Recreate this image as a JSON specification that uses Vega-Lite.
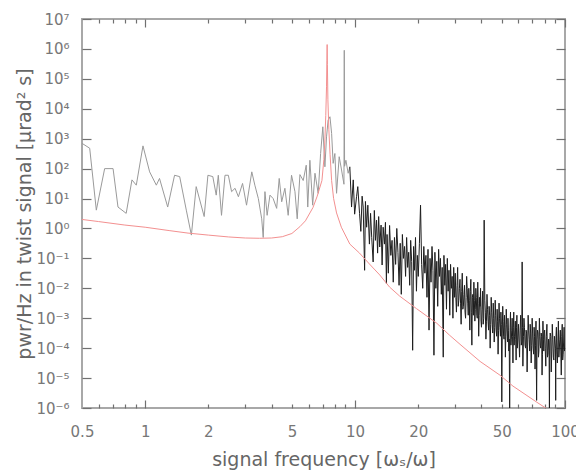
{
  "$schema": "https://vega.github.io/schema/vega-lite/v6.json",
  "width": 483,
  "height": 389,
  "autosize": {"type": "none"},
  "padding": {"left": 82, "top": 19, "right": 11, "bottom": 66},
  "background": "white",
  "config": {
    "view": {"stroke": "#a8a8a8", "strokeWidth": 2},
    "axis": {
      "domain": false,
      "grid": false,
      "tickColor": "#707070",
      "tickWidth": 1.2,
      "labelFont": "DejaVu Sans",
      "labelFontSize": 15,
      "labelColor": "#777",
      "titleFont": "DejaVu Sans",
      "titleFontSize": 19,
      "titleFontWeight": "normal",
      "titleColor": "#666",
      "labelOverlap": false,
      "labelFlush": false
    }
  },
  "datasets": {
    "spec": [
      {"f": 0.5, "p": 700}, {"f": 0.544, "p": 480}, {"f": 0.585, "p": 4.1}, {"f": 0.641, "p": 100},
      {"f": 0.703, "p": 100}, {"f": 0.742, "p": 5.2}, {"f": 0.812, "p": 3.2}, {"f": 0.865, "p": 42},
      {"f": 0.907, "p": 28}, {"f": 0.976, "p": 575}, {"f": 1.05, "p": 78}, {"f": 1.13, "p": 28},
      {"f": 1.17, "p": 47}, {"f": 1.28, "p": 5.2}, {"f": 1.38, "p": 60}, {"f": 1.46, "p": 54},
      {"f": 1.57, "p": 4.1}, {"f": 1.66, "p": 0.6}, {"f": 1.75, "p": 25}, {"f": 1.91, "p": 2.5},
      {"f": 1.99, "p": 60}, {"f": 2.1, "p": 54}, {"f": 2.18, "p": 13}, {"f": 2.23, "p": 60},
      {"f": 2.31, "p": 2.75}, {"f": 2.4, "p": 60}, {"f": 2.49, "p": 60}, {"f": 2.58, "p": 17},
      {"f": 2.68, "p": 22}, {"f": 2.78, "p": 11.5}, {"f": 2.91, "p": 32}, {"f": 3.04, "p": 6},
      {"f": 3.22, "p": 78}, {"f": 3.33, "p": 28}, {"f": 3.46, "p": 10}, {"f": 3.59, "p": 2.1},
      {"f": 3.65, "p": 0.5}, {"f": 3.72, "p": 17}, {"f": 3.81, "p": 2.75}, {"f": 3.93, "p": 13},
      {"f": 4.07, "p": 10}, {"f": 4.23, "p": 4.7}, {"f": 4.35, "p": 47}, {"f": 4.47, "p": 7.8},
      {"f": 4.63, "p": 22}, {"f": 4.8, "p": 2.75}, {"f": 4.98, "p": 60}, {"f": 5.17, "p": 17},
      {"f": 5.3, "p": 2.1}, {"f": 5.46, "p": 63}, {"f": 5.66, "p": 40}, {"f": 5.85, "p": 130},
      {"f": 5.95, "p": 5.2}, {"f": 6.09, "p": 190}, {"f": 6.28, "p": 6}, {"f": 6.44, "p": 70},
      {"f": 6.67, "p": 15}, {"f": 6.85, "p": 320}, {"f": 7.02, "p": 2500}, {"f": 7.18, "p": 115},
      {"f": 7.31, "p": 1150}, {"f": 7.44, "p": 4200}, {"f": 7.59, "p": 5400}, {"f": 7.73, "p": 1500},
      {"f": 7.86, "p": 150}, {"f": 8.01, "p": 320}, {"f": 8.16, "p": 15}, {"f": 8.4, "p": 250},
      {"f": 8.62, "p": 90}, {"f": 8.85, "p": 30}, {"f": 8.88, "p": 900000}, {"f": 8.91, "p": 120},
      {"f": 9.04, "p": 190}, {"f": 9.27, "p": 70}, {"f": 9.44, "p": 115}, {"f": 9.62, "p": 5.2},
      {"f": 9.8, "p": 42}, {"f": 9.95, "p": 3}, {"f": 10.16, "p": 11.5}, {"f": 10.3, "p": 25},
      {"f": 10.5, "p": 3.2}, {"f": 10.65, "p": 0.8}, {"f": 10.8, "p": 12}, {"f": 10.93, "p": 5.2},
      {"f": 11.1, "p": 0.04}, {"f": 11.2, "p": 8}, {"f": 11.35, "p": 1.1}, {"f": 11.5, "p": 6},
      {"f": 11.7, "p": 0.3}, {"f": 11.85, "p": 3.2}, {"f": 12.0, "p": 0.5}, {"f": 12.19, "p": 0.076},
      {"f": 12.35, "p": 4}, {"f": 12.5, "p": 0.4}, {"f": 12.65, "p": 1.9}, {"f": 12.8, "p": 0.15},
      {"f": 12.95, "p": 2.5}, {"f": 13.1, "p": 0.24}, {"f": 13.3, "p": 1.3}, {"f": 13.45, "p": 0.06},
      {"f": 13.6, "p": 1.1}, {"f": 13.8, "p": 0.3}, {"f": 13.95, "p": 1.6}, {"f": 14.1, "p": 0.0145},
      {"f": 14.2, "p": 0.63}, {"f": 14.4, "p": 0.032}, {"f": 14.6, "p": 1.26}, {"f": 14.8, "p": 0.126},
      {"f": 15.0, "p": 0.4}, {"f": 15.2, "p": 0.016}, {"f": 15.4, "p": 0.5}, {"f": 15.6, "p": 0.063},
      {"f": 15.8, "p": 1.0}, {"f": 16.0, "p": 0.16}, {"f": 16.2, "p": 0.0126}, {"f": 16.4, "p": 0.32},
      {"f": 16.6, "p": 0.0063}, {"f": 16.8, "p": 0.63}, {"f": 17.0, "p": 0.1}, {"f": 17.2, "p": 0.25},
      {"f": 17.4, "p": 0.025}, {"f": 17.6, "p": 0.5}, {"f": 17.8, "p": 0.05}, {"f": 18.0, "p": 0.16},
      {"f": 18.2, "p": 0.0126}, {"f": 18.4, "p": 0.4}, {"f": 18.6, "p": 0.08}, {"f": 18.8, "p": 8.5e-5},
      {"f": 19.0, "p": 0.25}, {"f": 19.2, "p": 0.04}, {"f": 19.4, "p": 0.5}, {"f": 19.6, "p": 0.008},
      {"f": 19.8, "p": 0.126}, {"f": 20.0, "p": 0.025}, {"f": 20.25, "p": 0.32}, {"f": 20.5, "p": 6},
      {"f": 20.75, "p": 0.063}, {"f": 21.0, "p": 0.01}, {"f": 21.25, "p": 0.25}, {"f": 21.5, "p": 0.032},
      {"f": 21.75, "p": 0.126}, {"f": 22.0, "p": 0.005}, {"f": 22.25, "p": 0.2}, {"f": 22.5, "p": 4e-4},
      {"f": 22.75, "p": 0.1}, {"f": 23.0, "p": 0.016}, {"f": 23.25, "p": 0.25}, {"f": 23.5, "p": 0.04},
      {"f": 23.75, "p": 5.8e-5}, {"f": 24.0, "p": 0.16}, {"f": 24.25, "p": 0.01}, {"f": 24.5, "p": 0.08},
      {"f": 24.75, "p": 0.0025}, {"f": 25.0, "p": 0.2}, {"f": 25.25, "p": 0.025}, {"f": 25.5, "p": 0.1},
      {"f": 25.75, "p": 0.0063}, {"f": 26.0, "p": 0.05}, {"f": 26.3, "p": 5e-5}, {"f": 26.5, "p": 0.126},
      {"f": 26.75, "p": 0.0126}, {"f": 27.0, "p": 0.063}, {"f": 27.25, "p": 0.002}, {"f": 27.5, "p": 0.1},
      {"f": 27.75, "p": 0.008}, {"f": 28.0, "p": 0.04}, {"f": 28.25, "p": 0.00126}, {"f": 28.5, "p": 0.063},
      {"f": 28.75, "p": 0.01}, {"f": 29.0, "p": 0.025}, {"f": 29.25, "p": 0.001}, {"f": 29.5, "p": 0.05},
      {"f": 29.75, "p": 0.005}, {"f": 30.0, "p": 0.032}, {"f": 30.4, "p": 0.0016}, {"f": 30.8, "p": 0.05},
      {"f": 31.2, "p": 0.004}, {"f": 31.6, "p": 0.02}, {"f": 32.0, "p": 6.3e-4}, {"f": 32.4, "p": 0.032},
      {"f": 32.8, "p": 0.0025}, {"f": 33.2, "p": 0.0126}, {"f": 33.6, "p": 0.001}, {"f": 34.0, "p": 0.025},
      {"f": 34.4, "p": 0.0032}, {"f": 34.8, "p": 0.01}, {"f": 35.2, "p": 4e-4}, {"f": 35.6, "p": 0.02},
      {"f": 36.0, "p": 1.26e-4}, {"f": 36.4, "p": 0.0063}, {"f": 36.8, "p": 0.016}, {"f": 37.2, "p": 8e-4},
      {"f": 37.6, "p": 0.01}, {"f": 38.0, "p": 0.00126}, {"f": 38.4, "p": 0.016}, {"f": 38.8, "p": 2.5e-4},
      {"f": 39.2, "p": 0.005}, {"f": 39.6, "p": 0.01}, {"f": 40.0, "p": 5e-4}, {"f": 40.5, "p": 0.008},
      {"f": 41.0, "p": 0.001}, {"f": 41.2, "p": 1.9}, {"f": 41.5, "p": 0.004}, {"f": 42.0, "p": 2e-4},
      {"f": 42.5, "p": 0.0063}, {"f": 43.0, "p": 8e-4}, {"f": 43.5, "p": 0.0025}, {"f": 44.0, "p": 1e-4},
      {"f": 44.5, "p": 0.005}, {"f": 45.0, "p": 6.3e-4}, {"f": 45.5, "p": 0.0032}, {"f": 46.0, "p": 1.6e-4},
      {"f": 46.5, "p": 0.004}, {"f": 47.0, "p": 4e-4}, {"f": 47.5, "p": 0.002}, {"f": 48.0, "p": 6.3e-5},
      {"f": 48.5, "p": 0.0032}, {"f": 49.0, "p": 5e-4}, {"f": 49.5, "p": 0.0016}, {"f": 50.0, "p": 1.6e-6},
      {"f": 50.5, "p": 0.0025}, {"f": 51.0, "p": 2.5e-4}, {"f": 51.5, "p": 0.00126}, {"f": 52.0, "p": 5e-5},
      {"f": 52.5, "p": 0.002}, {"f": 53.0, "p": 3.2e-4}, {"f": 53.5, "p": 0.001}, {"f": 54.0, "p": 8e-5},
      {"f": 54.5, "p": 5e-7}, {"f": 55.0, "p": 0.0016}, {"f": 55.5, "p": 2e-4}, {"f": 56.0, "p": 0.001},
      {"f": 56.5, "p": 3.2e-5}, {"f": 57.0, "p": 0.0016}, {"f": 57.5, "p": 2.5e-4}, {"f": 58.0, "p": 8e-4},
      {"f": 58.5, "p": 4e-5}, {"f": 59.0, "p": 0.00126}, {"f": 59.5, "p": 1.6e-4}, {"f": 60.0, "p": 6.3e-4},
      {"f": 60.75, "p": 5e-5}, {"f": 61.5, "p": 0.00126}, {"f": 62.25, "p": 1.6e-4}, {"f": 62.5, "p": 0.076},
      {"f": 62.75, "p": 5e-4}, {"f": 63.0, "p": 2.5e-5}, {"f": 63.75, "p": 0.001}, {"f": 64.5, "p": 1.26e-4},
      {"f": 65.25, "p": 4e-4}, {"f": 66.0, "p": 1.6e-5}, {"f": 66.75, "p": 0.00126}, {"f": 67.5, "p": 2e-4},
      {"f": 68.25, "p": 6.3e-4}, {"f": 69.0, "p": 3.2e-5}, {"f": 69.75, "p": 0.001}, {"f": 70.5, "p": 1e-4},
      {"f": 71.25, "p": 5e-4}, {"f": 72.0, "p": 2e-5}, {"f": 72.75, "p": 8e-4}, {"f": 73.25, "p": 1.8e-6},
      {"f": 74.0, "p": 4e-4}, {"f": 74.75, "p": 5e-5}, {"f": 75.5, "p": 0.001}, {"f": 76.25, "p": 1.26e-4},
      {"f": 77.0, "p": 3.2e-4}, {"f": 77.75, "p": 1.26e-5}, {"f": 78.5, "p": 8e-4}, {"f": 79.25, "p": 8e-5},
      {"f": 80.0, "p": 4e-4}, {"f": 81.0, "p": 2.5e-5}, {"f": 82.0, "p": 6.3e-4}, {"f": 83.0, "p": 6.3e-5},
      {"f": 84.3, "p": 5e-7}, {"f": 85.0, "p": 3.2e-4}, {"f": 86.0, "p": 1.6e-5}, {"f": 87.0, "p": 6.3e-4},
      {"f": 88.0, "p": 5e-5}, {"f": 89.0, "p": 2.5e-4}, {"f": 90.3, "p": 1.8e-6}, {"f": 91.0, "p": 5e-4},
      {"f": 92.0, "p": 3.2e-5}, {"f": 93.0, "p": 8e-4}, {"f": 94.0, "p": 1e-4}, {"f": 95.0, "p": 4e-4},
      {"f": 96.0, "p": 1.26e-5}, {"f": 97.0, "p": 6.3e-4}, {"f": 98.0, "p": 6.3e-5}, {"f": 99.0, "p": 5e-4},
      {"f": 100.0, "p": 1e-4},
      {"f": 30.2, "p": 0.005}, {"f": 30.6, "p": 0.0126}, {"f": 31.0, "p": 0.0025}, {"f": 31.4, "p": 0.01},
      {"f": 31.8, "p": 0.0032}, {"f": 32.2, "p": 0.008}, {"f": 32.6, "p": 0.002}, {"f": 33.0, "p": 0.0063},
      {"f": 33.4, "p": 0.0016}, {"f": 33.8, "p": 0.005}, {"f": 34.2, "p": 0.01}, {"f": 34.6, "p": 0.00126},
      {"f": 35.0, "p": 0.004}, {"f": 35.4, "p": 0.008}, {"f": 35.8, "p": 0.0016}, {"f": 36.2, "p": 0.005},
      {"f": 36.6, "p": 0.00126}, {"f": 37.0, "p": 0.004}, {"f": 37.4, "p": 0.002}, {"f": 37.8, "p": 0.005},
      {"f": 38.2, "p": 0.001}, {"f": 38.6, "p": 0.0032}, {"f": 39.0, "p": 0.00126}, {"f": 39.4, "p": 0.0025},
      {"f": 39.8, "p": 8e-4}, {"f": 40.25, "p": 0.002}, {"f": 40.75, "p": 6.3e-4}, {"f": 41.75, "p": 0.0016},
      {"f": 42.25, "p": 8e-4}, {"f": 42.75, "p": 0.002}, {"f": 43.25, "p": 4e-4}, {"f": 43.75, "p": 0.00126},
      {"f": 44.25, "p": 6.3e-4}, {"f": 44.75, "p": 0.0016}, {"f": 45.25, "p": 3.2e-4}, {"f": 45.75, "p": 0.001},
      {"f": 46.25, "p": 5e-4}, {"f": 46.75, "p": 0.00126}, {"f": 47.25, "p": 2.5e-4}, {"f": 47.75, "p": 8e-4},
      {"f": 48.25, "p": 4e-4}, {"f": 48.75, "p": 0.001}, {"f": 49.25, "p": 2.5e-4}, {"f": 49.75, "p": 6.3e-4},
      {"f": 50.25, "p": 3.2e-4}, {"f": 50.75, "p": 8e-4}, {"f": 51.25, "p": 2e-4}, {"f": 51.75, "p": 5e-4},
      {"f": 52.25, "p": 2.5e-4}, {"f": 52.75, "p": 6.3e-4}, {"f": 53.25, "p": 1.6e-4}, {"f": 53.75, "p": 4e-4},
      {"f": 54.25, "p": 2e-4}, {"f": 54.75, "p": 5e-4}, {"f": 55.25, "p": 1.26e-4}, {"f": 55.75, "p": 4e-4},
      {"f": 56.25, "p": 2.5e-4}, {"f": 56.75, "p": 5e-4}, {"f": 57.25, "p": 1.26e-4}, {"f": 57.75, "p": 4e-4},
      {"f": 58.25, "p": 2e-4}, {"f": 58.75, "p": 5e-4}, {"f": 59.25, "p": 1e-4}, {"f": 59.75, "p": 3.2e-4},
      {"f": 60.4, "p": 1.6e-4}, {"f": 61.1, "p": 4e-4}, {"f": 61.9, "p": 1.26e-4}, {"f": 63.4, "p": 2.5e-4},
      {"f": 64.1, "p": 5e-4}, {"f": 64.9, "p": 1e-4}, {"f": 65.6, "p": 3.2e-4}, {"f": 66.4, "p": 1.6e-4},
      {"f": 67.1, "p": 4e-4}, {"f": 67.9, "p": 8e-5}, {"f": 68.6, "p": 3.2e-4}, {"f": 69.4, "p": 1.26e-4},
      {"f": 70.1, "p": 3.2e-4}, {"f": 70.9, "p": 6.3e-5}, {"f": 71.6, "p": 2.5e-4}, {"f": 72.4, "p": 1.26e-4},
      {"f": 73.6, "p": 2e-4}, {"f": 74.4, "p": 3.2e-4}, {"f": 75.1, "p": 8e-5}, {"f": 75.9, "p": 2.5e-4},
      {"f": 76.6, "p": 1e-4}, {"f": 77.4, "p": 2.5e-4}, {"f": 78.1, "p": 6.3e-5}, {"f": 78.9, "p": 2e-4},
      {"f": 79.6, "p": 3.2e-4}, {"f": 80.5, "p": 1e-4}, {"f": 81.5, "p": 2.5e-4}, {"f": 82.5, "p": 5e-5},
      {"f": 83.5, "p": 2e-4}, {"f": 84.0, "p": 8e-5}, {"f": 84.6, "p": 1.6e-4}, {"f": 85.5, "p": 2.5e-4},
      {"f": 86.5, "p": 8e-5}, {"f": 87.5, "p": 2e-4}, {"f": 88.5, "p": 4e-5}, {"f": 89.5, "p": 1.6e-4},
      {"f": 90.0, "p": 1e-4}, {"f": 90.6, "p": 2.5e-4}, {"f": 91.5, "p": 6.3e-5}, {"f": 92.5, "p": 1.6e-4},
      {"f": 93.5, "p": 5e-5}, {"f": 94.5, "p": 2e-4}, {"f": 95.5, "p": 8e-5}, {"f": 96.5, "p": 2.5e-4},
      {"f": 97.5, "p": 4e-5}, {"f": 98.5, "p": 1.6e-4}, {"f": 99.5, "p": 8e-5}
    ],
    "fit": [
      {"f": 0.5, "p": 2.0}, {"f": 0.6, "p": 1.7}, {"f": 0.8, "p": 1.3}, {"f": 1.0, "p": 1.1},
      {"f": 1.3, "p": 0.85}, {"f": 1.6, "p": 0.7}, {"f": 2.0, "p": 0.6}, {"f": 2.5, "p": 0.52},
      {"f": 3.0, "p": 0.48}, {"f": 3.5, "p": 0.47}, {"f": 4.0, "p": 0.48}, {"f": 4.5, "p": 0.53},
      {"f": 5.0, "p": 0.68}, {"f": 5.46, "p": 1.15}, {"f": 5.8, "p": 1.8}, {"f": 6.3, "p": 5},
      {"f": 6.6, "p": 12}, {"f": 6.95, "p": 40}, {"f": 7.1, "p": 200}, {"f": 7.18, "p": 900},
      {"f": 7.25, "p": 6000}, {"f": 7.31, "p": 54000}, {"f": 7.34, "p": 400000}, {"f": 7.36, "p": 1400000},
      {"f": 7.38, "p": 300000}, {"f": 7.42, "p": 20000}, {"f": 7.5, "p": 2000}, {"f": 7.6, "p": 300},
      {"f": 7.73, "p": 40}, {"f": 7.9, "p": 10}, {"f": 8.16, "p": 3.3}, {"f": 8.6, "p": 1.1},
      {"f": 9.44, "p": 0.3}, {"f": 10.5, "p": 0.15}, {"f": 11.7, "p": 0.065}, {"f": 13.1, "p": 0.028},
      {"f": 14.6, "p": 0.011}, {"f": 16.3, "p": 0.0055}, {"f": 19.6, "p": 0.0021}, {"f": 24.5, "p": 6.8e-4},
      {"f": 28.2, "p": 2.7e-4}, {"f": 31.6, "p": 1.35e-4}, {"f": 39.4, "p": 3.6e-5}, {"f": 49, "p": 1.25e-5},
      {"f": 56.5, "p": 5.4e-6}, {"f": 73.5, "p": 1.55e-6}, {"f": 80, "p": 1.05e-6}, {"f": 85, "p": 8e-7}
    ]
  },
  "layer": [
    {
      "data": {"name": "spec"},
      "transform": [{"filter": "datum.f <= 9.44"}],
      "mark": {"type": "line", "color": "#9a9a9a", "strokeWidth": 1, "clip": true},
      "encoding": {
        "x": {
          "field": "f", "type": "quantitative",
          "scale": {"type": "log", "domain": [0.5, 100], "nice": false},
          "axis": {
            "orient": "bottom",
            "title": "signal frequency [ωₛ/ω]",
            "values": [0.5, 1, 2, 5, 10, 20, 50, 100],
            "offset": -8,
            "tickSize": 8,
            "tickOpacity": {"condition": {"test": "datum.value == 1 || datum.value == 10 || datum.value == 100", "value": 1}, "value": 0},
            "labelPadding": 16,
            "titlePadding": 11
          }
        },
        "y": {
          "field": "p", "type": "quantitative",
          "scale": {"type": "log", "domain": [1e-6, 1e7], "nice": false},
          "axis": {
            "orient": "left",
            "title": "pwr/Hz in twist signal [μrad² s]",
            "values": [1e-6, 1e-5, 1e-4, 1e-3, 1e-2, 1e-1, 1, 10, 100, 1000, 10000, 100000, 1000000, 10000000],
            "labelExpr": "'10' + (datum.value < 0.5 ? '⁻' : '') + substring('⁰¹²³⁴⁵⁶⁷⁸⁹', abs(round(log(datum.value) / LN10)), abs(round(log(datum.value) / LN10)) + 1)",
            "offset": -9,
            "tickSize": 9,
            "labelPadding": 13,
            "titlePadding": 1
          }
        }
      }
    },
    {
      "data": {"name": "spec"},
      "transform": [{"filter": "datum.f >= 9.44 && datum.f <= 30"}],
      "mark": {"type": "line", "color": "#1e1e1e", "strokeWidth": 1, "clip": true},
      "encoding": {
        "x": {
          "field": "f", "type": "quantitative",
          "scale": {"type": "log", "domain": [0.5, 100], "nice": false},
          "axis": {
            "orient": "bottom",
            "title": null,
            "labels": false,
            "values": [0.6, 0.7, 0.8, 0.9, 2, 3, 4, 5, 6, 7, 8, 9, 20, 30, 40, 50, 60, 70, 80, 90],
            "offset": -4,
            "tickSize": 4
          }
        },
        "y": {"field": "p", "type": "quantitative", "scale": {"type": "log", "domain": [1e-6, 1e7], "nice": false}, "axis": null}
      }
    },
    {
      "data": {"name": "spec"},
      "transform": [{"filter": "datum.f >= 30"}],
      "mark": {"type": "line", "color": "#1e1e1e", "strokeWidth": 1, "clip": true},
      "encoding": {
        "x": {
          "field": "f", "type": "quantitative",
          "scale": {"type": "log", "domain": [0.5, 100], "nice": false},
          "axis": {
            "orient": "top",
            "title": null,
            "labels": false,
            "values": [0.6, 0.7, 0.8, 0.9, 2, 3, 4, 5, 6, 7, 8, 9, 20, 30, 40, 50, 60, 70, 80, 90],
            "offset": -4,
            "tickSize": 4
          }
        },
        "y": {"field": "p", "type": "quantitative", "scale": {"type": "log", "domain": [1e-6, 1e7], "nice": false}, "axis": null}
      }
    },
    {
      "data": {"name": "fit"},
      "mark": {"type": "line", "color": "#f39090", "strokeWidth": 1, "clip": true},
      "encoding": {
        "x": {
          "field": "f", "type": "quantitative",
          "scale": {"type": "log", "domain": [0.5, 100], "nice": false},
          "axis": {
            "orient": "top",
            "title": null,
            "labels": false,
            "values": [1, 10, 100],
            "offset": -8,
            "tickSize": 8
          }
        },
        "y": {
          "field": "p", "type": "quantitative",
          "scale": {"type": "log", "domain": [1e-6, 1e7], "nice": false},
          "axis": {
            "orient": "right",
            "title": null,
            "labels": false,
            "values": [1e-6, 1e-5, 1e-4, 1e-3, 1e-2, 1e-1, 1, 10, 100, 1000, 10000, 100000, 1000000, 10000000],
            "offset": -9,
            "tickSize": 9
          }
        }
      }
    }
  ],
  "resolve": {"axis": {"x": "independent", "y": "independent"}}
}
